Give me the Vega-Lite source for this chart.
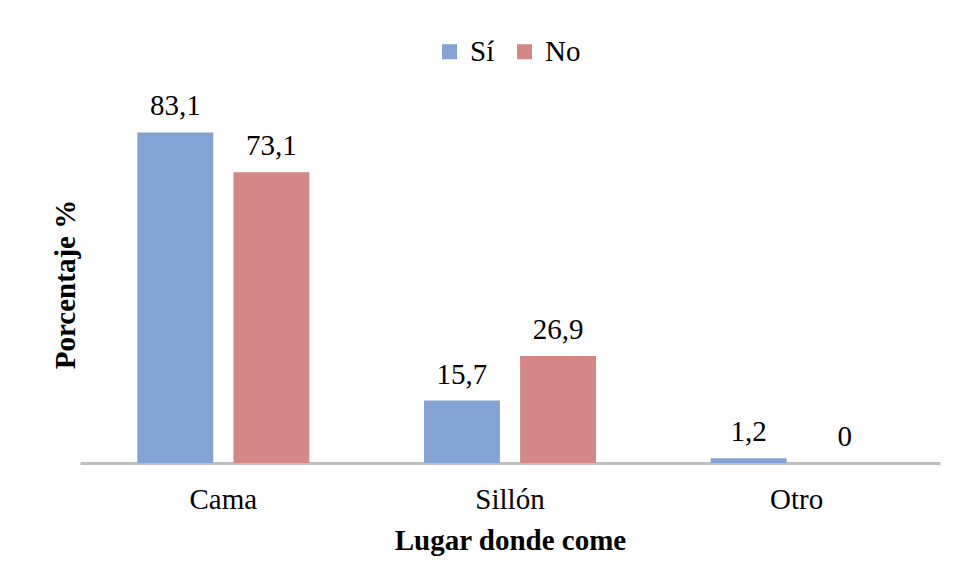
{
  "$schema": "https://vega.github.io/schema/vega-lite/v6.json",
  "width": 860,
  "height": 358,
  "autosize": "none",
  "padding": {"left": 80, "top": 105, "right": 15, "bottom": 116},
  "background": "white",
  "config": {
    "view": {"stroke": null},
    "font": "'Liberation Serif', 'Times New Roman', Times, serif",
    "locale": {"number": {"decimal": ",", "thousands": ".", "grouping": [3], "currency": ["", " €"]}}
  },
  "data": {
    "values": [
      {"lugar": "Cama", "grupo": "Sí", "valor": 83.1},
      {"lugar": "Cama", "grupo": "No", "valor": 73.1},
      {"lugar": "Sillón", "grupo": "Sí", "valor": 15.7},
      {"lugar": "Sillón", "grupo": "No", "valor": 26.9},
      {"lugar": "Otro", "grupo": "Sí", "valor": 1.2},
      {"lugar": "Otro", "grupo": "No", "valor": 0}
    ]
  },
  "encoding": {
    "x": {
      "field": "lugar",
      "type": "nominal",
      "sort": ["Cama", "Sillón", "Otro"],
      "scale": {"paddingInner": 0.4, "paddingOuter": 0.2},
      "axis": {
        "title": "Lugar donde come",
        "labelAngle": 0,
        "ticks": false,
        "domainColor": "#bfbfbf",
        "domainWidth": 3,
        "labelPadding": 22,
        "labelFont": "'Liberation Serif', 'Times New Roman', Times, serif",
        "labelFontSize": 29,
        "labelColor": "black",
        "titleFont": "'Liberation Serif', 'Times New Roman', Times, serif",
        "titleFontSize": 29,
        "titleFontWeight": "bold",
        "titleColor": "black",
        "titlePadding": 12
      }
    },
    "xOffset": {
      "field": "grupo",
      "type": "nominal",
      "sort": ["Sí", "No"],
      "scale": {"paddingInner": 0.21, "paddingOuter": 0}
    },
    "y": {
      "field": "valor",
      "type": "quantitative",
      "scale": {"domain": [0, 90]},
      "axis": {
        "title": "Porcentaje %",
        "labels": false,
        "ticks": false,
        "domain": false,
        "grid": false,
        "titleFont": "'Liberation Serif', 'Times New Roman', Times, serif",
        "titleFontSize": 29,
        "titleFontWeight": "bold",
        "titleColor": "black",
        "titlePadding": 0
      }
    }
  },
  "layer": [
    {
      "mark": {"type": "bar"},
      "encoding": {
        "color": {
          "field": "grupo",
          "type": "nominal",
          "sort": ["Sí", "No"],
          "scale": {"domain": ["Sí", "No"], "range": ["#82a3d3", "#d48784"]},
          "legend": {
            "title": null,
            "orient": "none",
            "legendX": 355,
            "legendY": -68,
            "direction": "horizontal",
            "symbolType": "square",
            "symbolSize": 225,
            "symbolStrokeWidth": 0,
            "labelFont": "'Liberation Serif', 'Times New Roman', Times, serif",
            "labelFontSize": 29,
            "labelColor": "black",
            "labelOffset": 6,
            "columnPadding": 15,
            "padding": 0
          }
        }
      }
    },
    {
      "mark": {"type": "text", "baseline": "alphabetic", "dy": -17, "font": "'Liberation Serif', 'Times New Roman', Times, serif", "fontSize": 29, "color": "black"},
      "encoding": {
        "text": {"field": "valor", "type": "quantitative", "format": ".1~f"}
      }
    }
  ]
}
